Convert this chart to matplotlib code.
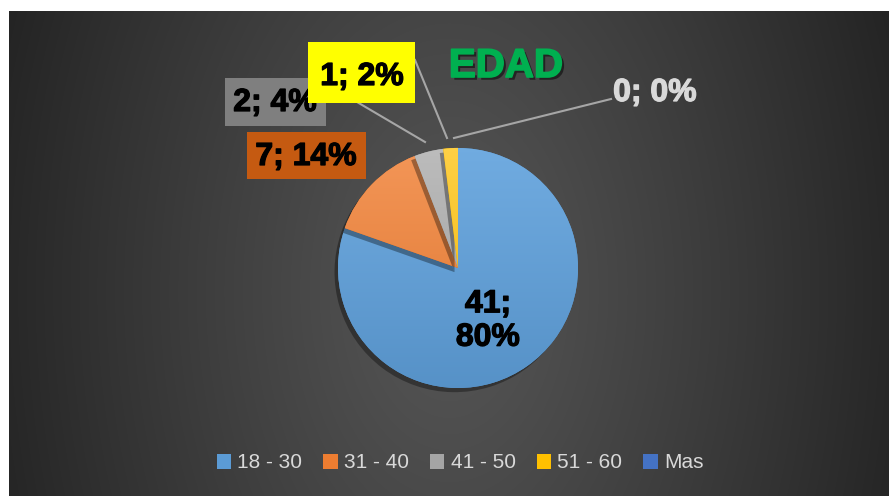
import numpy as np
import matplotlib.pyplot as plt
from matplotlib.patches import Rectangle, Shadow
from matplotlib.colors import to_rgb
import matplotlib.patheffects as pe

W, H = 889, 496

# data
categories = ['18 - 30', '31 - 40', '41 - 50', '51 - 60', 'Mas']
values = [41, 7, 2, 1, 0]

colors = ['#5B9BD5', '#ED7D31', '#A5A5A5', '#FFC000', '#4472C4']
lights = ['#72ADE2', '#F5985A', '#BEBEBE', '#FFD24A', '#5F8AD3']
explode = [0, 0.07, 0.07, 0.07, 0.07]

total = sum(values)
labels = ['%d; %d%%' % (v, round(100.0 * v / total)) for v in values]

fig = plt.figure(figsize=(W / 100, H / 100), dpi=100)
ax = fig.add_axes([0, 0, 1, 1])

def Y(y):
    # pixel row from top -> data y
    return H - y

# dark radial background
yy, xx = np.mgrid[0:485, 0:880]
d = np.sqrt(((xx - 440) / 440.0) ** 2 + ((yy - 280) / 700.0) ** 2)
v = np.clip(86 - 46 * d ** 1.1, 30, 90) / 255.0
bg = np.dstack([v, v, v])
ax.imshow(bg, extent=[9, W, 0, Y(11)], aspect='auto', zorder=0,
          interpolation='bilinear')

# pie in pixel coordinates
cx, cy, r = 458, 268, 120
wedges, _ = ax.pie(values, colors=colors, startangle=90, counterclock=False,
                   explode=explode, center=(cx, Y(cy)), radius=r,
                   wedgeprops=dict(linewidth=0))

for i, w in enumerate(wedges):
    z = 2 + 3 * i
    sh = Shadow(w, -2.5, -3.0, facecolor='black', alpha=0.35, linewidth=0)
    sh.set_zorder(z)
    ax.add_patch(sh)
    w.set_zorder(z + 1)
    # vertical gradient fill clipped to the wedge
    x0, x1 = cx - r - 15, cx + r + 15
    y0, y1 = Y(cy) - r - 15, Y(cy) + r + 15
    c1 = np.array(to_rgb(lights[i]))
    c2 = np.array(to_rgb(colors[i])) * 0.93
    t = np.linspace(0, 1, 256)[:, None]
    grad = (c1[None, :] * (1 - t) + c2[None, :] * t)[:, None, :]
    im = ax.imshow(grad, extent=[x0, x1, y0, y1], aspect='auto',
                   zorder=z + 2, interpolation='bilinear')
    im.set_clip_path(w)

heavy = [pe.Stroke(linewidth=0.9, foreground='black'), pe.Normal()]
lab_font = dict(family='Liberation Sans', fontweight='bold', fontsize=23,
                color='black', ha='center', va='center')

# label boxes
boxes = [
    (247, 132, 366, 179, '#C55A11'),   # 31 - 40
    (225, 78, 326, 126, '#7F7F7F'),    # 41 - 50
    (308, 42, 415, 103, '#FFFF00'),    # 51 - 60
]
for k, (bx0, by0, bx1, by1, fc) in enumerate(boxes):
    ax.add_patch(Rectangle((bx0, Y(by1)), bx1 - bx0, by1 - by0,
                           facecolor=fc, edgecolor='none', zorder=30 + k))

# leader lines
lc = '#A6A6A6'
ax.plot([357, 425], [Y(102), Y(142)], color=lc, lw=1.5, zorder=25)
ax.plot([415, 447], [Y(60), Y(138)], color=lc, lw=1.5, zorder=25)
ax.plot([611, 454], [Y(99), Y(138)], color=lc, lw=1.5, zorder=25)

ax.text(488, Y(321), labels[0].replace(' ', '\n'), zorder=40, linespacing=1.15,
        path_effects=heavy, **lab_font)
ax.text(306, Y(157), labels[1], zorder=40, path_effects=heavy, **lab_font)
ax.text(275, Y(103), labels[2], zorder=31, path_effects=heavy, **lab_font)
ax.text(362, Y(77), labels[3], zorder=40, path_effects=heavy, **lab_font)
f0 = dict(lab_font)
f0['color'] = '#D9D9D9'
ax.text(655, Y(93), labels[4], zorder=40,
        path_effects=[pe.Stroke(linewidth=0.9, foreground='#D9D9D9'),
                      pe.Normal()], **f0)

# title
ax.text(506, Y(66), 'EDAD', family='Liberation Sans', fontweight='heavy',
        fontsize=29, color='#00B050', ha='center', va='center', zorder=40,
        path_effects=[pe.withSimplePatchShadow(offset=(2, -2),
                                               shadow_rgbFace='black',
                                               alpha=0.5),
                      pe.Stroke(linewidth=1.2, foreground='#00B050'),
                      pe.Normal()])

leg = ax.legend(wedges, categories, loc='center', ncol=5, frameon=False,
                bbox_to_anchor=(460 / W, Y(463) / H),
                bbox_transform=fig.transFigure,
                prop=dict(family='Liberation Sans', size=15),
                handlelength=0.7, handleheight=0.7, handletextpad=0.3,
                columnspacing=1.0, labelcolor='#D9D9D9')
for hnd, c in zip(leg.legend_handles, colors):
    hnd.set_facecolor(c)

ax.set_xlim(0, W)
ax.set_ylim(0, H)
ax.set_aspect('auto')
ax.axis('off')

fig.savefig('out.png', dpi=100, facecolor='white')
